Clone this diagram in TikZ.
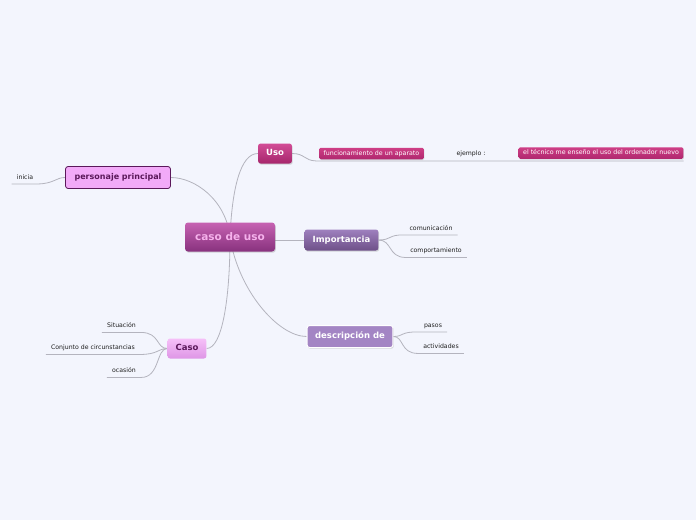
\documentclass[tikz,border=0pt]{standalone}
\usepackage{fontspec}
\setmainfont{DejaVu Sans}
\usetikzlibrary{shadows,calc}
\definecolor{bgc}{RGB}{243,245,253}
\definecolor{edgec}{RGB}{180,180,190}
\definecolor{centtop}{RGB}{198,98,178}
\definecolor{centbot}{RGB}{136,50,126}
\definecolor{centtext}{RGB}{246,178,236}
\definecolor{magtop}{RGB}{210,76,150}
\definecolor{magbot}{RGB}{166,38,108}
\definecolor{smtop}{RGB}{206,62,134}
\definecolor{smbot}{RGB}{176,40,110}
\definecolor{imptop}{RGB}{158,128,190}
\definecolor{impbot}{RGB}{110,80,136}
\definecolor{descfill}{RGB}{163,133,196}
\definecolor{casotop}{RGB}{246,192,248}
\definecolor{casobot}{RGB}{222,150,230}
\definecolor{purtext}{RGB}{90,24,90}
\definecolor{persfill}{RGB}{242,170,248}
\definecolor{leaftext}{RGB}{30,30,30}
\pgfdeclarelayer{bottom}
\pgfdeclarelayer{background}
\pgfsetlayers{bottom,background,main}
\tikzset{
  edge/.style={draw=edgec, line width=0.8pt},
  shad/.style={drop shadow={shadow xshift=0.8pt, shadow yshift=-1.2pt, opacity=0.3}},
  central/.style={rounded corners=3pt, top color=centtop, bottom color=centbot,
    text=centtext, font=\fontsize{10.5}{12}\selectfont\bfseries,
    minimum width=90pt, minimum height=29pt, shad},
  topic/.style={rounded corners=2.5pt, font=\fontsize{8.5}{10}\selectfont\bfseries,
    inner xsep=8pt, minimum height=20pt, text height=6.5pt, text depth=1.8pt},
  usobox/.style={topic, top color=magtop, bottom color=magbot, text=white, shad},
  impbox/.style={topic, top color=imptop, bottom color=impbot, text=white, minimum height=21pt, shad},
  descbox/.style={topic, fill=descfill, draw=white, line width=1pt, text=white, minimum height=22pt, shad},
  casobox/.style={topic, top color=casotop, bottom color=casobot, text=purtext},
  persbox/.style={topic, fill=persfill, draw=purtext, line width=0.8pt, text=purtext,
    font=\fontsize{8}{10}\selectfont\bfseries, minimum height=22pt, inner xsep=9pt},
  smallbox/.style={rounded corners=1.5pt, top color=smtop, bottom color=smbot, text=white,
    font=\fontsize{6.3}{7}\selectfont, inner xsep=4.5pt, inner ysep=2.5pt,
    text height=5pt, text depth=1.5pt, drop shadow={shadow xshift=0.6pt, shadow yshift=-0.8pt, opacity=0.25}},
  leaf/.style={text=leaftext, font=\fontsize{6.2}{7}\selectfont, inner xsep=5pt, inner ysep=3pt,
    text height=5pt, text depth=1.5pt}
}
\begin{document}
\begin{tikzpicture}[x=1pt,y=-1pt]
\begin{pgfonlayer}{bottom}
\fill[bgc] (0,0) rectangle (696,520);
\end{pgfonlayer}
\useasboundingbox (0,0) rectangle (696,520);

\node[central] (c) at (230,237) {caso de uso};
\node[usobox] (uso) at (275,153.5) {Uso};
\node[smallbox] (func) at (371.5,153.5) {funcionamiento de un aparato};
\node[leaf] (ej) at (471,154) {ejemplo :};
\node[smallbox] (tec) at (601,153) {el técnico me enseño el uso del ordenador nuevo};
\node[persbox] (pp) at (118,177.5) {personaje principal};
\node[leaf] (ini) at (25,177.5) {inicia};
\node[impbox] (imp) at (341.5,240) {Importancia};
\node[leaf] (com) at (431,228.5) {comunicación};
\node[leaf] (comp) at (436,251) {comportamiento};
\node[descbox] (desc) at (350,336.5) {descripción de};
\node[leaf] (pas) at (433,325.5) {pasos};
\node[leaf] (act) at (441,347) {actividades};
\node[casobox] (caso) at (187,348.5) {Caso};
\node[leaf] (sit) at (121.5,326) {Situación};
\node[leaf] (conj) at (93,348) {Conjunto de circunstancias};
\node[leaf] (oca) at (124,371) {ocasión};

\coordinate (l0) at ($(func.south west)+(-3,1.5)$);
\coordinate (l1) at (l0 -| tec.east);

\begin{pgfonlayer}{background}
\draw[edge] (c.center) .. controls (232,190) and (240,153.5) .. (uso.west);
\draw[edge] (c.center) .. controls (226,200) and (195,177.5) .. (pp.east);
\draw[edge] (c.center |- imp.west) -- (imp.west);
\draw[edge] (c.center) .. controls (238,290) and (278,336.5) .. (desc.west);
\draw[edge] (c.center) .. controls (230,300) and (222,348.5) .. (caso.east);

\draw[edge] (uso.east) .. controls (305,153.5) and (304,160.5) .. (l0) -- (l1);

\draw[edge] (pp.west) .. controls (56,177.5) and (54,183.5) .. (ini.south east) -- (ini.south west);

\draw[edge] (imp.east) .. controls (392,240) and (388,234.5) .. (com.south west) -- (com.south east);
\draw[edge] (imp.east) .. controls (392,240) and (388,257) .. (comp.south west) -- (comp.south east);

\draw[edge] (desc.east) .. controls (404,336.5) and (400,331.5) .. (pas.south west) -- (pas.south east);
\draw[edge] (desc.east) .. controls (404,336.5) and (400,353.5) .. (act.south west) -- (act.south east);

\draw[edge] (caso.west) .. controls (156,348.5) and (160,332.5) .. (sit.south east) -- (sit.south west);
\draw[edge] (caso.west) .. controls (158,348.5) and (158,354.5) .. (conj.south east) -- (conj.south west);
\draw[edge] (caso.west) .. controls (156,348.5) and (160,377.5) .. (oca.south east) -- (oca.south west);
\end{pgfonlayer}
\end{tikzpicture}
\end{document}
